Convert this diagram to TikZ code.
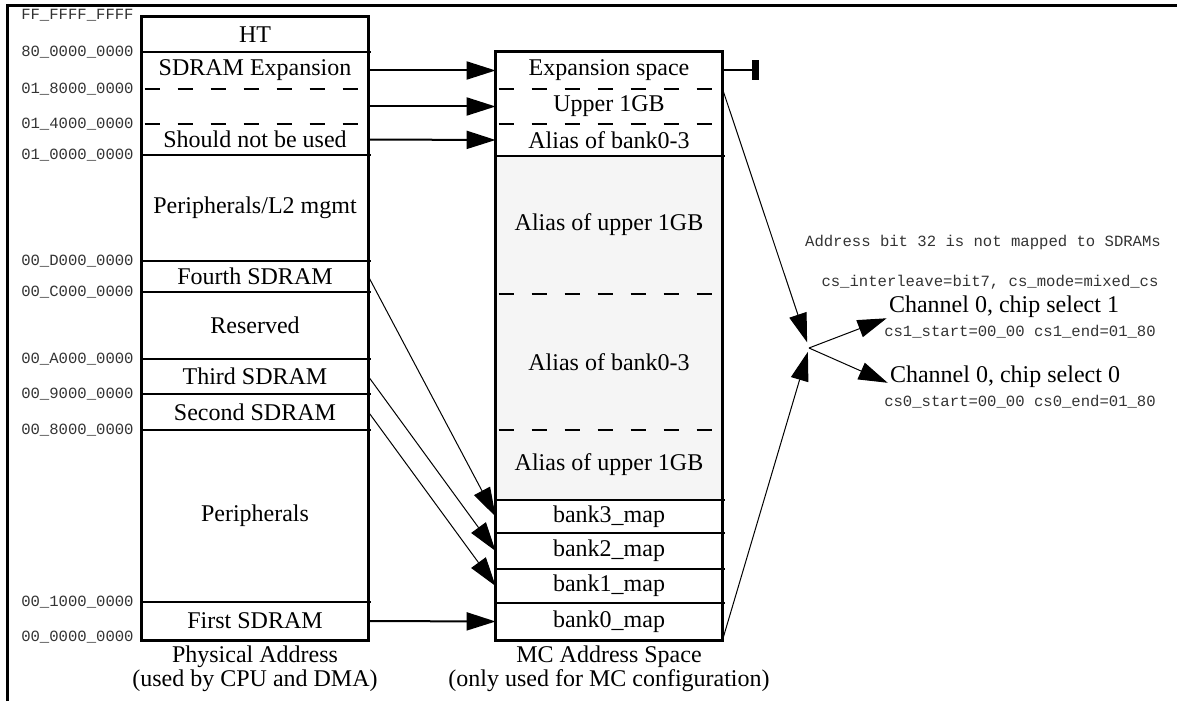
\documentclass[tikz,border=0pt]{standalone}
\usepackage{fontspec}
\setmainfont{Liberation Serif}
\setmonofont{Liberation Mono}
\usetikzlibrary{arrows.meta}
\definecolor{aliasgray}{HTML}{F5F5F5}

\begin{document}
\begin{tikzpicture}
[x=0.5pt,y=-0.5pt,
  cellDecorate/.style={shape=rectangle,inner sep=0pt,minimum width=113pt,%
    font=\fontsize{12}{14}\selectfont},%
  addrDecorate/.style={anchor=east,inner sep=0pt,text=black!80,%
    font=\ttfamily\fontsize{7.8}{9}\selectfont},%
  noteDecorate/.style={inner sep=0pt,text=black!80,%
    font=\ttfamily\fontsize{7.8}{9}\selectfont},%
  textDecorate/.style={inner sep=0pt,font=\fontsize{12}{14}\selectfont},%
  captionDecorate/.style={inner sep=0pt,align=center,%
    font=\fontsize{12}{10.5}\selectfont},%
  frameDecorate/.style={line width=1.5pt},%
  boxDecorate/.style={line width=1.3pt},%
  lineDecorate/.style={line width=1pt},%
  dashDecorate/.style={line width=1pt,dash pattern=on 7.5pt off 9pt},%
  arrowDecorate/.style={-{Triangle[length=14.5pt,width=9pt]},line width=1pt},%
  thinArrowDecorate/.style={-{Triangle[length=14.5pt,width=9pt]},line width=0.5pt},%
  barDecorate/.style={-{Rectangle[length=3.5pt,width=10pt]},line width=1pt}]
\useasboundingbox (0,0) rectangle (1177,701);
%%
%% frame
\draw[frameDecorate] (7.5,701) -- (7.5,5.5) -- (1177,5.5);
%%
%% physical address map
\foreach \nodename/\ya/\yb/\txt in {
  ht/17/52/HT, sdexp/52/89/SDRAM Expansion, gap/89/124/{},
  notused/124/155/Should not be used, periL2/155/261/{Peripherals/L2 mgmt},
  fourth/261/292/Fourth SDRAM, reserved/292/359/Reserved,
  third/359/394/Third SDRAM, second/394/430/Second SDRAM,
  peri/430/602/Peripherals, first/602/640/First SDRAM}
{
  \node (\nodename) at (255,{(\ya+\yb)/2})
    [cellDecorate,minimum height={(\yb-\ya)*0.5pt}] {\txt};
}
%% MC address space
\foreach \nodename/\ya/\yb/\shade/\txt in {
  expsp/52/89/white/Expansion space, upper/89/124/white/Upper 1GB,
  aliasA/124/156/white/Alias of bank0-3,
  aliasB/156/294/aliasgray/Alias of upper 1GB,
  aliasC/294/430/aliasgray/Alias of bank0-3,
  aliasD/430/500/aliasgray/Alias of upper 1GB,
  bank3/500/533/white/bank3\_map, bank2/533/569/white/bank2\_map,
  bank1/569/603/white/bank1\_map, bank0/603/640/white/bank0\_map}
{
  \node (\nodename) at (609,{(\ya+\yb)/2})
    [cellDecorate,fill=\shade,minimum height={(\yb-\ya)*0.5pt}] {\txt};
}
%% separators
\foreach \nodename in {ht,notused,periL2,fourth,reserved,third,second,peri,
  aliasA,aliasD,bank3,bank2,bank1}
{
  \draw[lineDecorate] (\nodename.south west) -- ([xshift=1.5pt]\nodename.south east);
}
\foreach \nodename in {sdexp,gap,expsp,upper,aliasB,aliasC}
{
  \draw[dashDecorate] ([xshift=1.5pt]\nodename.south west) -- ([xshift=1.5pt]\nodename.south east);
}
\draw[boxDecorate] (ht.north west) rectangle (first.south east);
\draw[boxDecorate] (expsp.north west) rectangle (bank0.south east);
%%
%% addresses
\foreach \nodename/\y/\addr in {
  aTop/15/FF\_FFFF\_FFFF, aHT/52/80\_0000\_0000, aExp/89/01\_8000\_0000,
  aUse/124/01\_4000\_0000, aPer/155/01\_0000\_0000, aD/261/00\_D000\_0000,
  aC/292/00\_C000\_0000, aA/359/00\_A000\_0000, aNine/394/00\_9000\_0000,
  aEight/430/00\_8000\_0000, aOne/602/00\_1000\_0000, aZero/637/00\_0000\_0000}
{
  \node (\nodename) at (134,\y) [addrDecorate] {\addr};
}
%% captions
\node (physcap) at (255,669) [captionDecorate] {Physical Address\\(used by CPU and DMA)};
\node (mccap) at (609,669) [captionDecorate] {MC Address Space\\(only used for MC configuration)};
%%
%% chip selects
\node (note) at (983,242) [noteDecorate] {Address bit 32 is not mapped to SDRAMs};
\node (mode) at (990,282) [noteDecorate] {cs\_interleave=bit7, cs\_mode=mixed\_cs};
\node (chOne) at (1004,307) [textDecorate] {Channel 0, chip select 1};
\node (csOne) at (1020,332) [noteDecorate] {cs1\_start=00\_00 cs1\_end=01\_80};
\node (chZero) at (1005,377) [textDecorate] {Channel 0, chip select 0};
\node (csZero) at (1020,402) [noteDecorate] {cs0\_start=00\_00 cs0\_end=01\_80};
\coordinate (hub) at (809,348);
\coordinate (stop) at (759,70.5);
%%
%% arrows
\path
\foreach \startnode/\endnode in {sdexp/expsp, gap/upper, notused/aliasA, first/bank0}
{
  (\startnode.east) edge[arrowDecorate] (\endnode.west)
};
\path
\foreach \startnode/\endnode in {fourth/bank3, third/bank2, second/bank1}
{
  (\startnode.east) edge[thinArrowDecorate] (\endnode.west)
};
\draw[barDecorate] (expsp.east) -- (stop);
\draw[thinArrowDecorate,shorten >=3pt] (upper.north east) -- (hub);
\draw[thinArrowDecorate,shorten >=2pt] (bank0.south east) -- (hub);
\draw[thinArrowDecorate] (hub) -- ([xshift=-1pt]chOne.south west);
\draw[thinArrowDecorate] (hub) -- ([xshift=-1pt]chZero.base west);
\end{tikzpicture}
\end{document}
